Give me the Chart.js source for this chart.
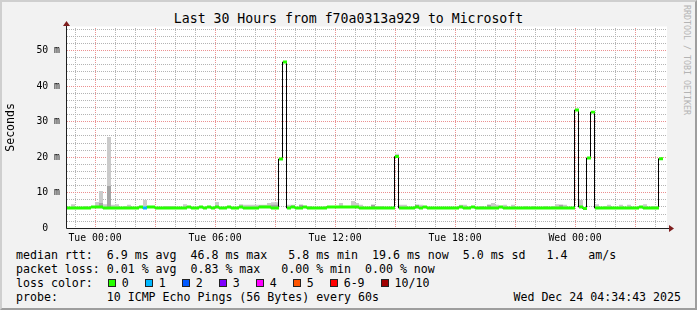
<!DOCTYPE html>
<html>
<head>
<meta charset="utf-8">
<title>Last 30 Hours from f70a0313a929 to Microsoft</title>
<script src="https://cdn.jsdelivr.net/npm/chart.js@4.4.1/dist/chart.umd.min.js"></script>
<style>
  html, body { margin:0; padding:0; background:#f2f2f2; }
  #wrap { position:relative; width:697px; height:310px; box-sizing:border-box; border:2px solid; border-color:#cfcfcf #9e9e9e #9e9e9e #cfcfcf; background:#f2f2f2; overflow:hidden; font-family:'DejaVu Sans Mono', monospace; color:#000; }
  #title { position:absolute; left:0; right:0; top:9.2px; text-align:center; font-size:13.2px; line-height:16px; white-space:pre; }
  #plot { position:absolute; left:0; top:0; width:680px; height:245px; }
  #wm { position:absolute; left:680px; top:3px; writing-mode:vertical-rl; font-size:8.3px; line-height:10px; color:#b4b4b4; white-space:pre; }
  #legend { position:absolute; left:14px; right:14px; top:245.5px; font-size:11.6px; line-height:14px; }
  .row { height:14px; display:flex; align-items:center; white-space:pre; }
  .sw { display:inline-block; width:8px; height:8px; box-sizing:border-box; border:1px solid #222; margin:0 6px 0 1px; }
  .item { display:inline-flex; align-items:center; margin-right:15px; }
  .grow { flex:1; }
</style>
</head>
<body>
<div id="wrap"><div id="title"></div><div id="plot"><canvas id="c" width="680" height="245"></canvas></div><div id="wm">RRDTOOL / TOBI OETIKER</div><div id="legend"><div class="row" id="r1"></div><div class="row" id="r2"></div><div class="row" id="r3"></div><div class="row" id="r4"></div></div></div>
<script>
// ---------- text ----------
const titleText = 'Last 30 Hours from f70a0313a929 to Microsoft';
const yAxisTitle = 'Seconds';
const rttLine  = 'median rtt:  6.9 ms avg  46.8 ms max   5.8 ms min  19.6 ms now  5.0 ms sd   1.4   am/s';
const lossLine = 'packet loss: 0.01 % avg  0.83 % max   0.00 % min  0.00 % now';
const probeLine = 'probe:       10 ICMP Echo Pings (56 Bytes) every 60s';
const stampText = 'Wed Dec 24 04:34:43 2025';
const lossLabels = ['0', '1', '2', '3', '4', '5', '6-9', '10/10'];
const lossColors = ['#26ff00', '#00b8ff', '#0059ff', '#7e00ff', '#ff00ff', '#ff5500', '#ff0000', '#a00000'];

// ---------- time axis (hours from Tue 00:00) ----------
const startHour = -1.4;
const endHour = 28.6;
const binHours = 0.2;            // 12 minute consolidation step
const xLabelHours = [0, 6, 12, 18, 24];
const xLabels = ['Tue 00:00', 'Tue 06:00', 'Tue 12:00', 'Tue 18:00', 'Wed 00:00'];
const yMax = 56.8;               // ms
const yGridStep = 2, yLabelStep = 10, xMajorHours = 3;

// ---------- series (ms), one value per 12-minute bin ----------
const median = [
  5.7,5.7,5.7,5.7,5.7,5.7,6.0,6.0,6.0,5.7,
  5.7,5.7,5.7,5.7,5.7,5.7,5.7,5.7,6.0,5.7,
  6.0,6.0,5.7,5.7,5.7,5.7,5.7,5.7,5.7,5.7,
  6.0,5.7,5.7,6.0,5.7,6.0,5.7,6.0,5.7,5.7,
  6.0,5.7,5.7,6.0,5.7,5.7,5.7,5.7,6.0,6.0,
  6.0,5.7,5.7,19.5,46.8,5.7,6.0,5.7,5.7,6.0,
  5.7,5.7,5.7,5.7,5.7,6.0,6.0,6.0,6.0,6.0,
  6.0,6.0,6.0,5.7,5.7,5.7,5.7,5.7,5.7,5.7,
  5.7,5.7,20.2,5.7,5.7,5.7,5.7,6.0,5.7,6.0,
  5.7,5.7,5.7,5.7,5.7,5.7,5.7,5.7,6.0,5.7,
  5.7,6.0,5.7,5.7,5.7,5.7,5.7,5.7,6.0,5.7,
  5.7,5.7,5.7,5.7,5.7,5.7,5.7,5.7,5.7,5.7,
  5.7,5.7,5.7,5.7,5.7,5.7,5.7,33.3,6.0,5.6,
  19.8,32.7,5.7,5.7,5.7,5.7,5.7,5.7,5.7,5.7,
  5.7,5.7,5.7,6.0,5.7,5.7,5.7,5.7,19.6
];
// highest ping of each bin (light smoke), null where nothing shows above the median
const smokeHigh = [
  null,6.8,null,null,6.3,null,null,7.4,10.5,6.8,
  25.7,6.6,6.8,null,6.3,6.6,null,null,null,8.0,
  null,null,null,null,6.3,6.3,6.3,null,null,6.8,
  null,null,null,null,null,null,null,7.4,null,null,
  null,null,null,6.8,6.6,6.6,6.6,6.6,6.6,6.6,
  7.1,7.3,7.3,null,null,6.6,6.6,null,6.6,6.3,
  6.3,null,null,null,6.3,null,null,null,7.1,null,
  null,7.7,7.1,6.6,null,null,6.6,6.3,6.3,null,
  null,null,21.0,6.6,6.6,null,null,6.6,6.6,null,
  null,null,null,null,null,null,null,null,6.6,6.6,
  null,null,null,6.3,null,6.6,7.1,6.6,null,6.6,
  null,6.6,null,null,6.3,null,6.3,null,null,6.3,
  null,6.3,6.8,6.6,6.6,null,null,null,8.0,null,
  null,null,6.8,null,6.3,6.6,null,null,6.6,null,
  6.6,null,null,null,6.8,null,6.3,6.3,null
];
// top of the denser (darker) smoke band, null where not visible
const smokeDense = [
  null,null,null,null,null,null,null,null,7.1,null,
  11.9,null,null,null,null,null,null,null,null,null,
  null,null,null,null,null,null,null,null,null,null,
  null,null,null,null,null,null,null,null,null,null,
  null,null,null,null,null,null,null,null,null,null,
  null,6.6,6.6,null,null,null,null,null,6.6,null,
  null,null,null,null,null,null,null,null,null,null,
  null,null,null,null,null,null,6.6,null,null,null,
  null,null,null,null,null,null,null,6.6,null,null,
  null,null,null,null,null,null,null,null,null,null,
  null,null,null,null,null,6.6,null,null,null,null,
  null,null,null,null,null,null,null,null,null,null,
  null,null,null,6.6,null,null,null,null,null,null,
  null,null,null,null,null,null,null,null,null,null,
  null,null,null,null,null,null,null,null,null
];
// packet loss per bin (%)
const lossPct = [
  0,0,0,0,0,0,0,0,0,0,
  0,0,0,0,0,0,0,0,0,0.83,
  0,0,0,0,0,0,0,0,0,0,
  0,0,0,0,0,0,0,0,0,0,
  0,0,0,0,0,0,0,0,0,0,
  0,0,0,0,0,0,0,0,0,0,
  0,0,0,0,0,0,0,0,0,0,
  0,0,0,0,0,0,0,0,0,0,
  0,0,0,0,0,0,0,0,0,0,
  0,0,0,0,0,0,0,0,0,0,
  0,0,0,0,0,0,0,0,0,0,
  0,0,0,0,0,0,0,0,0,0,
  0,0,0,0,0,0,0,0,0,0,
  0,0,0,0,0,0,0,0,0,0,
  0,0,0,0,0,0,0,0,0
];

// ---------- HTML text parts ----------
document.getElementById('title').textContent = titleText;
document.getElementById('r1').textContent = rttLine;
document.getElementById('r2').textContent = lossLine;
(function () {
  const r3 = document.getElementById('r3');
  r3.appendChild(document.createTextNode('loss color:  '));
  lossLabels.forEach((lab, i) => {
    const it = document.createElement('span'); it.className = 'item';
    const sw = document.createElement('span'); sw.className = 'sw'; sw.style.background = lossColors[i];
    it.appendChild(sw); it.appendChild(document.createTextNode(lab));
    r3.appendChild(it);
  });
  const r4 = document.getElementById('r4');
  const a = document.createElement('span'); a.textContent = probeLine;
  const g = document.createElement('span'); g.className = 'grow';
  const b = document.createElement('span'); b.textContent = stampText;
  r4.appendChild(a); r4.appendChild(g); r4.appendChild(b);
})();

// ---------- chart ----------
const binCenter = i => startHour + binHours * (i + 0.5);
const lossBucket = p => p === 0 ? 0 : (p >= 100 ? 7 : Math.min(6, Math.ceil(p / 10)));
const bandHalf = 0.42;   // half thickness of the median band (ms)

const medianBand = median.map((m, i) => ({ x: binCenter(i), y: [m - bandHalf, m + bandHalf] }));
const medianLine = median.map((m, i) => ({ x: binCenter(i), y: m }));
const lightSmoke = [], denseSmoke = [];
smokeHigh.forEach((h, i) => { if (h != null) lightSmoke.push({ x: binCenter(i), y: [median[i], h] }); });
smokeDense.forEach((h, i) => { if (h != null) denseSmoke.push({ x: binCenter(i), y: [median[i], h] }); });

const MINOR = '#b4b4b4', MAJOR = '#eb9090';
const FONT = "'DejaVu Sans Mono', monospace";
Chart.defaults.font.family = FONT;
Chart.defaults.color = '#000';

const rrdPlugin = {
  id: 'rrd',
  beforeDraw(chart) {
    const { ctx, chartArea: a } = chart;
    ctx.save(); ctx.fillStyle = '#ffffff';
    ctx.fillRect(a.left, a.top, a.right - a.left, a.bottom - a.top);
    ctx.restore();
  },
  beforeDatasetsDraw(chart) {
    // rrdtool-style dotted grid, placed through the chart's own scales
    const { ctx, chartArea: a, scales: { x, y } } = chart;
    const top = Math.round(a.top), bottom = Math.floor(a.bottom);
    const left = Math.round(a.left), right = Math.round(a.right);
    ctx.save();
    for (let h = Math.ceil(startHour); h <= Math.floor(endHour); h++) {
      const col = Math.round(x.getPixelForValue(h));
      ctx.fillStyle = (h % xMajorHours === 0) ? MAJOR : MINOR;
      for (let r = top + 1; r < bottom; r += 2) ctx.fillRect(col, r, 1, 1);
    }
    for (let v = yGridStep; v <= yMax; v += yGridStep) {
      const row = Math.floor(y.getPixelForValue(v));
      ctx.fillStyle = (v % yLabelStep === 0) ? MAJOR : MINOR;
      for (let c = left; c < right; c += 2) ctx.fillRect(c, row, 1, 1);
    }
    ctx.restore();
  },
  beforeDatasetDraw(chart, args) {
    if (args.meta.type === 'line') { chart.ctx.save(); chart.ctx.translate(-0.5, 0); }
  },
  afterDatasetDraw(chart, args) {
    if (args.meta.type === 'line') chart.ctx.restore();
  },
  afterDatasetsDraw(chart) {
    const { ctx, chartArea: a } = chart;
    const y0 = Math.floor(chart.scales.y.getPixelForValue(0)) + 0.5;
    const x0 = Math.floor(a.left) - 0.5;
    ctx.save();
    ctx.strokeStyle = '#1f1f1f'; ctx.lineWidth = 1;
    ctx.beginPath();
    ctx.moveTo(x0, y0); ctx.lineTo(a.right + 3, y0);
    ctx.moveTo(x0, y0); ctx.lineTo(x0, a.top - 1);
    ctx.stroke();
    ctx.fillStyle = '#7f1f1f';
    ctx.beginPath();
    ctx.moveTo(a.right + 2, y0 - 3.5); ctx.lineTo(a.right + 7, y0); ctx.lineTo(a.right + 2, y0 + 3.5);
    ctx.closePath(); ctx.fill();
    ctx.beginPath();
    ctx.moveTo(x0 - 3.5, a.top - 0.5); ctx.lineTo(x0, a.top - 5.5); ctx.lineTo(x0 + 3.5, a.top - 0.5);
    ctx.closePath(); ctx.fill();
    ctx.restore();
  }
};

new Chart(document.getElementById('c'), {
  type: 'bar',
  data: {
    datasets: [
      { type: 'bar', label: 'median', data: medianBand, order: 0, grouped: false,
        backgroundColor: c => lossColors[lossBucket(lossPct[c.dataIndex])],
        borderWidth: 0, barPercentage: 1, categoryPercentage: 1, inflateAmount: 0 },
      { type: 'line', label: 'median line', data: medianLine, order: 1, stepped: 'middle',
        borderColor: '#000000', borderWidth: 1, pointRadius: 0, fill: false, spanGaps: false },
      { type: 'bar', label: 'dense smoke', data: denseSmoke, order: 2, grouped: false,
        backgroundColor: '#a4a4a4', borderWidth: 0, barPercentage: 1, categoryPercentage: 1, inflateAmount: 0 },
      { type: 'bar', label: 'smoke', data: lightSmoke, order: 3, grouped: false,
        backgroundColor: '#cbcbcb', borderWidth: 0, barPercentage: 1, categoryPercentage: 1, inflateAmount: 0 }
    ]
  },
  options: {
    responsive: false,
    animation: false,
    events: [],
    layout: { padding: { left: 0, right: 15, top: 24.5, bottom: 0 } },
    plugins: { legend: { display: false }, tooltip: { enabled: false }, title: { display: false } },
    scales: {
      x: {
        type: 'linear', min: startHour, max: endHour, offset: false,
        afterFit(s) { s.height = 18.7; },
        afterBuildTicks(s) { s.ticks = xLabelHours.map(v => ({ value: v })); },
        ticks: {
          autoSkip: false, maxRotation: 0, minRotation: 0, padding: 4,
          font: { family: FONT, size: 9.8 }, color: '#000',
          callback: v => { const k = xLabelHours.indexOf(v); return k >= 0 ? xLabels[k] : ''; }
        },
        grid: { display: false, drawTicks: false },
        border: { display: false }
      },
      y: {
        type: 'linear', min: 0, max: yMax,
        afterFit(s) { s.width = 65; },
        afterBuildTicks(s) {
          const t = [];
          for (let v = 0; v <= yMax; v += yLabelStep) t.push({ value: v });
          s.ticks = t;
        },
        ticks: {
          autoSkip: false, padding: 7,
          font: { family: FONT, size: 9.8 }, color: '#000',
          callback: v => v === 0 ? '0  ' : v + ' m'
        },
        grid: { display: false, drawTicks: false },
        border: { display: false },
        title: { display: true, text: yAxisTitle, color: '#000',
          font: { family: FONT, size: 11.6 }, padding: { top: 2.5, bottom: 0 } }
      }
    }
  },
  plugins: [rrdPlugin]
});
</script>
</body>
</html>
